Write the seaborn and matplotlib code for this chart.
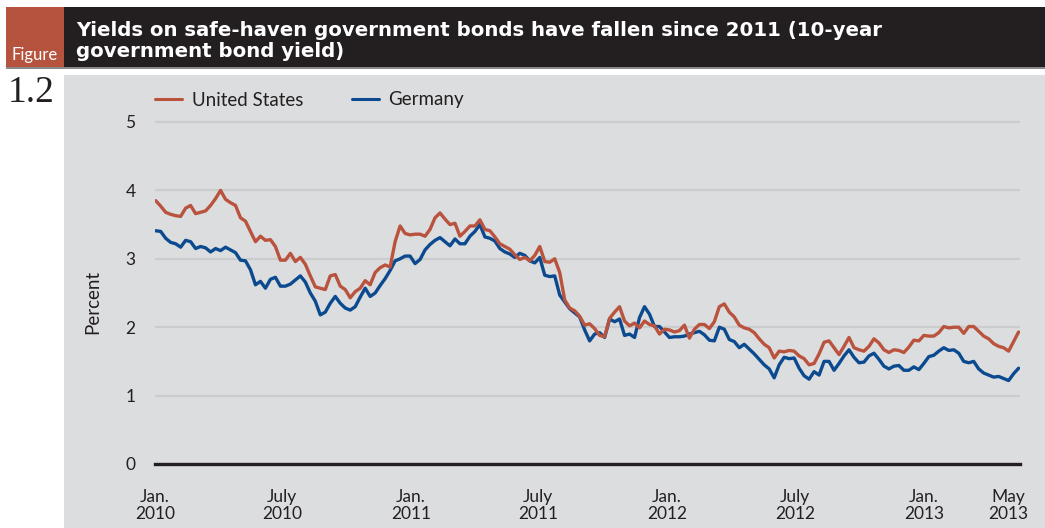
import numpy as np
import pandas as pd
import matplotlib
matplotlib.use("Agg")
import matplotlib.pyplot as plt
import seaborn as sns
from matplotlib.patches import Rectangle

# 10-year government bond yields (percent), roughly weekly from Jan. 2010 to mid-May 2013
us_yield = [
    3.85, 3.77, 3.68, 3.65, 3.63, 3.62, 3.74, 3.78, 3.66, 3.68,
    3.70, 3.78, 3.88, 4.00, 3.87, 3.82, 3.78, 3.60, 3.55, 3.40,
    3.25, 3.33, 3.27, 3.28, 3.18, 2.98, 2.98, 3.08, 2.96, 3.02,
    2.92, 2.75, 2.59, 2.57, 2.55, 2.75, 2.77, 2.60, 2.55, 2.43,
    2.52, 2.57, 2.68, 2.62, 2.80, 2.87, 2.91, 2.88, 3.25, 3.48,
    3.37, 3.35, 3.36, 3.36, 3.33, 3.43, 3.60, 3.67, 3.58, 3.50,
    3.52, 3.33, 3.40, 3.48, 3.48, 3.57, 3.43, 3.41, 3.32, 3.22,
    3.18, 3.14, 3.06, 2.99, 3.02, 2.97, 3.05, 3.18, 2.96, 2.95,
    3.00, 2.80, 2.40, 2.28, 2.24, 2.16, 2.03, 2.05, 1.98, 1.88,
    1.86, 2.13, 2.22, 2.30, 2.09, 2.02, 2.06, 1.99, 2.09, 2.04,
    2.02, 1.90, 1.97, 1.96, 1.93, 1.95, 2.03, 1.84, 1.97, 2.04,
    2.04, 1.98, 2.08, 2.30, 2.34, 2.22, 2.15, 2.03, 1.99, 1.97,
    1.92, 1.83, 1.75, 1.70, 1.55, 1.65, 1.64, 1.66, 1.65, 1.58,
    1.54, 1.45, 1.47, 1.61, 1.78, 1.80, 1.70, 1.60, 1.72, 1.85,
    1.70, 1.67, 1.65, 1.72, 1.83, 1.77, 1.67, 1.63, 1.67, 1.66,
    1.63, 1.71, 1.81, 1.80, 1.88, 1.87, 1.87, 1.92, 2.01, 1.99,
    2.00, 2.00, 1.91, 2.01, 2.01, 1.94, 1.87, 1.83, 1.76, 1.72,
    1.70, 1.65, 1.79, 1.93,
]
germany_yield = [
    3.41, 3.40, 3.30, 3.24, 3.22, 3.17, 3.27, 3.25, 3.15, 3.18,
    3.16, 3.10, 3.15, 3.12, 3.17, 3.13, 3.09, 2.98, 2.97, 2.84,
    2.62, 2.67, 2.57, 2.70, 2.73, 2.60, 2.60, 2.63, 2.69, 2.75,
    2.66, 2.50, 2.38, 2.18, 2.22, 2.35, 2.45, 2.35, 2.28, 2.25,
    2.30, 2.44, 2.57, 2.45, 2.50, 2.61, 2.71, 2.83, 2.97, 3.00,
    3.04, 3.04, 2.93, 2.99, 3.13, 3.21, 3.27, 3.31, 3.25, 3.19,
    3.29, 3.22, 3.22, 3.33, 3.40, 3.50, 3.32, 3.30, 3.26, 3.15,
    3.10, 3.07, 3.02, 3.08, 3.05, 2.97, 2.94, 3.02, 2.76, 2.74,
    2.75, 2.47, 2.37, 2.27, 2.21, 2.15, 1.96, 1.80, 1.90, 1.92,
    1.85, 2.12, 2.08, 2.12, 1.88, 1.90, 1.85, 2.14, 2.30, 2.19,
    2.01, 2.01, 1.93, 1.85, 1.86, 1.86, 1.87, 1.90, 1.92, 1.94,
    1.89, 1.81, 1.80, 2.00, 1.97, 1.82, 1.79, 1.70, 1.75, 1.68,
    1.61, 1.53, 1.45, 1.39, 1.26, 1.45, 1.56, 1.54, 1.55, 1.40,
    1.29, 1.24, 1.35, 1.30, 1.50, 1.50, 1.37, 1.47, 1.58, 1.67,
    1.56, 1.48, 1.49, 1.58, 1.62, 1.53, 1.43, 1.39, 1.43, 1.44,
    1.37, 1.37, 1.42, 1.38, 1.47, 1.57, 1.59, 1.65, 1.70, 1.66,
    1.67, 1.62, 1.50, 1.48, 1.50, 1.39, 1.33, 1.30, 1.27, 1.28,
    1.25, 1.22, 1.32, 1.40,
]
first_date = "2010-01-02"
last_date = "2013-05-16"

series_names = ["United States", "Germany"]
series_colors = ["#b9533e", "#0b4a8f"]

tick_dates = ["2010-01-01", "2010-07-01", "2011-01-01", "2011-07-01",
              "2012-01-01", "2012-07-01", "2013-01-01", "2013-05-01"]
tick_labels = ["Jan.\n2010", "July\n2010", "Jan.\n2011", "July\n2011",
               "Jan.\n2012", "July\n2012", "Jan.\n2013", "May\n2013"]
y_ticks = [0, 1, 2, 3, 4, 5]

title_text = ("Yields on safe-haven government bonds have fallen since 2011 (10-year\n"
              "government bond yield)")
figure_word = "Figure"
figure_number = "1.2"
y_label = "Percent"

# ---- tidy frame -------------------------------------------------------
dates = pd.date_range(first_date, last_date, periods=len(us_yield))
df = pd.DataFrame({
    "date": np.concatenate([dates, dates]),
    "yield": us_yield + germany_yield,
    "country": [series_names[0]] * len(us_yield) + [series_names[1]] * len(germany_yield),
})

sns.set_theme(style="white")
plt.rcParams["font.family"] = ["Lato", "DejaVu Sans"]

W, H = 1045, 528
fig = plt.figure(figsize=(W / 100, H / 100), dpi=100)
fig.patch.set_facecolor("white")


def fx(px):
    return px / W


def fy(py):
    return 1 - py / H


panel_gray = "#dcdddf"
bar_black = "#231f20"
tab_red = "#b5533f"

# gray chart panel, title bar, figure tab
fig.patches.append(Rectangle((fx(64), 0), 1 - fx(64), fy(75), transform=fig.transFigure,
                             facecolor=panel_gray, edgecolor="none", zorder=-5))
fig.patches.append(Rectangle((fx(64), fy(67)), 1 - fx(64), fy(7) - fy(67), transform=fig.transFigure,
                             facecolor=bar_black, edgecolor="none", zorder=-5))
fig.patches.append(Rectangle((fx(6), fy(67)), fx(64) - fx(6), fy(7) - fy(67), transform=fig.transFigure,
                             facecolor=tab_red, edgecolor="none", zorder=-5))
fig.patches.append(Rectangle((fx(6), fy(68.5)), 1 - fx(6), fy(67) - fy(68.5), transform=fig.transFigure,
                             facecolor="#8a8a8a", edgecolor="none", zorder=-5))

fig.text(fx(76), fy(57), title_text, color="white", fontsize=14.2, fontweight="bold",
         family=["DejaVu Sans"], ha="left", va="baseline", linespacing=1.15)
fig.text(fx(35), fy(60), figure_word, color="white", fontsize=12, ha="center", va="baseline")
fig.text(fx(8), fy(75), figure_number, color="#231f20", fontsize=27,
         family=["Liberation Serif", "DejaVu Serif"], ha="left", va="top")

# ---- plot area --------------------------------------------------------
y_top_px = 117
y_zero_px = 464
px_per_unit = 68.4
ax = fig.add_axes([fx(155), fy(y_zero_px), fx(1020) - fx(155), fy(y_top_px) - fy(y_zero_px)])
ax.set_zorder(2)
ax.patch.set_alpha(0)

sns.lineplot(data=df, x="date", y="yield", hue="country", hue_order=series_names,
             palette=dict(zip(series_names, series_colors)), linewidth=2.4, ax=ax)
for line, z in zip(ax.lines, [4, 3]):
    line.set_zorder(z)

ax.set_ylim(0, (y_zero_px - y_top_px) / px_per_unit)
ax.set_xlim(pd.Timestamp("2010-01-01"), pd.Timestamp("2013-05-18"))
ax.set_yticks(y_ticks)
ax.set_yticklabels([str(t) for t in y_ticks], fontsize=12.5, color="#231f20")
ax.set_xticks(pd.to_datetime(tick_dates))
ax.set_xticklabels(tick_labels, fontsize=12.5, color="#231f20", linespacing=1.05)
ax.tick_params(axis="x", length=0, pad=18)
ax.tick_params(axis="y", length=0, pad=14)
ax.set_xlabel("")
ax.set_ylabel("")

ax.yaxis.grid(True, color="#cbcccd", linewidth=1.6)
ax.set_axisbelow(True)
for side in ["left", "right", "top"]:
    ax.spines[side].set_visible(False)
ax.spines["bottom"].set_color(bar_black)
ax.spines["bottom"].set_linewidth(2.4)

fig.text(fx(93), fy(302), y_label, rotation=90, fontsize=13.5, color="#231f20",
         ha="center", va="center")

handles, labels = ax.get_legend_handles_labels()
leg = ax.legend(handles, labels, loc="center left", bbox_to_anchor=(fx(155), fy(100)),
                bbox_transform=fig.transFigure, ncol=2, frameon=False, fontsize=13.5,
                handlelength=1.45, handletextpad=0.5, columnspacing=2.6,
                borderpad=0, borderaxespad=0)
for h in leg.legend_handles:
    h.set_linewidth(2.2)
for t in leg.get_texts():
    t.set_color("#231f20")

fig.savefig("out.png", dpi=100, facecolor="white")
